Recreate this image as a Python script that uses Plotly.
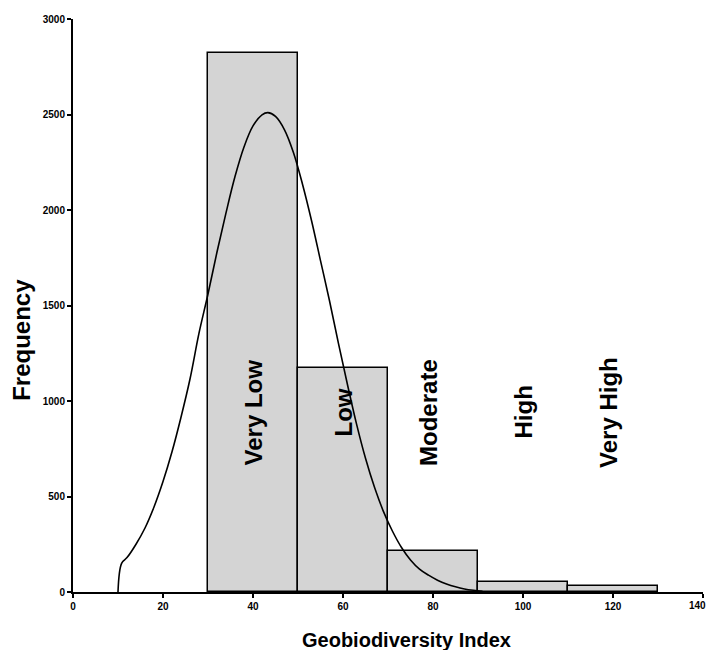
import plotly.graph_objects as go

# Histogram bins (Geobiodiversity Index classes)
bin_start = [30, 50, 70, 90, 110]
bin_end = [50, 70, 90, 110, 130]
frequency = [2820, 1173, 216, 54, 30]
class_labels = ["Very Low", "Low", "Moderate", "High", "Very High"]
label_x = [40, 60, 79, 100, 119]
label_y = [940, 940, 940, 940, 940]

# Fitted curve
curve_x = [10.0, 10.8, 12, 14, 16, 18, 20, 22, 24, 26, 28, 30, 32, 34, 36, 38, 40, 42, 43.3,
           45, 47, 49, 51, 53, 55, 57, 59, 61, 63, 65, 67, 69, 71, 73, 75, 77, 79, 81,
           83, 85, 87, 89, 91]
curve_y = [0, 150, 180, 250, 335, 445, 578, 734, 915, 1115, 1355, 1560, 1780, 1985, 2175,
           2330, 2440, 2498, 2510, 2490, 2420, 2300, 2135, 1945, 1735, 1525, 1300, 1085,
           880, 700, 548, 421, 318, 233, 168, 120, 88, 62, 42, 27, 16, 9, 4]

x_ticks = [0, 20, 40, 60, 80, 100, 120, 140]
y_ticks = [0, 500, 1000, 1500, 2000, 2500, 3000]

centers = [(a + b) / 2 for a, b in zip(bin_start, bin_end)]
widths = [b - a for a, b in zip(bin_start, bin_end)]

fig = go.Figure()
fig.add_trace(go.Bar(
    x=centers, y=frequency, width=widths,
    marker=dict(color="#d4d4d4", line=dict(color="black", width=1.5)),
    showlegend=False, hoverinfo="skip",
))
fig.add_trace(go.Scatter(
    x=curve_x, y=curve_y, mode="lines",
    line=dict(color="black", width=1.6, shape="spline", smoothing=1.0),
    showlegend=False, hoverinfo="skip",
))

lab_font = dict(family="Liberation Sans, Arial", size=24, color="black", weight="bold")
for t, xx, yy in zip(class_labels, label_x, label_y):
    fig.add_annotation(x=xx, y=yy, xref="x", yref="y", text=t, textangle=-90,
                       showarrow=False, font=lab_font, xanchor="center", yanchor="middle")

fig.add_annotation(x=-0.081, y=0.44, xref="paper", yref="paper", text="Frequency",
                   textangle=-90, showarrow=False,
                   font=dict(family="Liberation Sans, Arial", size=24, color="black", weight="bold"),
                   xanchor="center", yanchor="middle")
fig.add_annotation(x=0.53, y=-0.084, xref="paper", yref="paper", text="Geobiodiversity Index",
                   showarrow=False,
                   font=dict(family="Liberation Sans, Arial", size=20, color="black", weight="bold"),
                   xanchor="center", yanchor="middle")

tick_font = dict(family="Liberation Sans, Arial", size=10, color="black", weight="bold")

# last x tick label sits at the page edge: draw it right-aligned so it stays visible
x_ticktext = [str(v) for v in x_ticks[:-1]] + [""]
fig.add_annotation(x=1.0079, y=-0.0227, xref="paper", yref="paper", text=str(x_ticks[-1]),
                   showarrow=False, font=tick_font, xanchor="right", yanchor="middle")

fig.update_layout(
    width=709, height=650,
    margin=dict(l=73, r=6, t=19, b=58, autoexpand=False),
    paper_bgcolor="white", plot_bgcolor="white",
    bargap=0,
    xaxis=dict(range=[0, 140], tickvals=x_ticks, ticktext=x_ticktext,
               showgrid=False, zeroline=False, showline=True, linecolor="black", linewidth=2,
               ticks="outside", ticklen=4, tickwidth=1.5, tickcolor="black",
               tickfont=tick_font, automargin=False),
    yaxis=dict(range=[0, 3000], tickvals=y_ticks, ticktext=[str(v) for v in y_ticks],
               showgrid=False, zeroline=False, showline=True, linecolor="black", linewidth=2,
               ticks="outside", ticklen=4, tickwidth=1.5, tickcolor="black",
               tickfont=tick_font, automargin=False),
)

fig.write_html("out.html")
